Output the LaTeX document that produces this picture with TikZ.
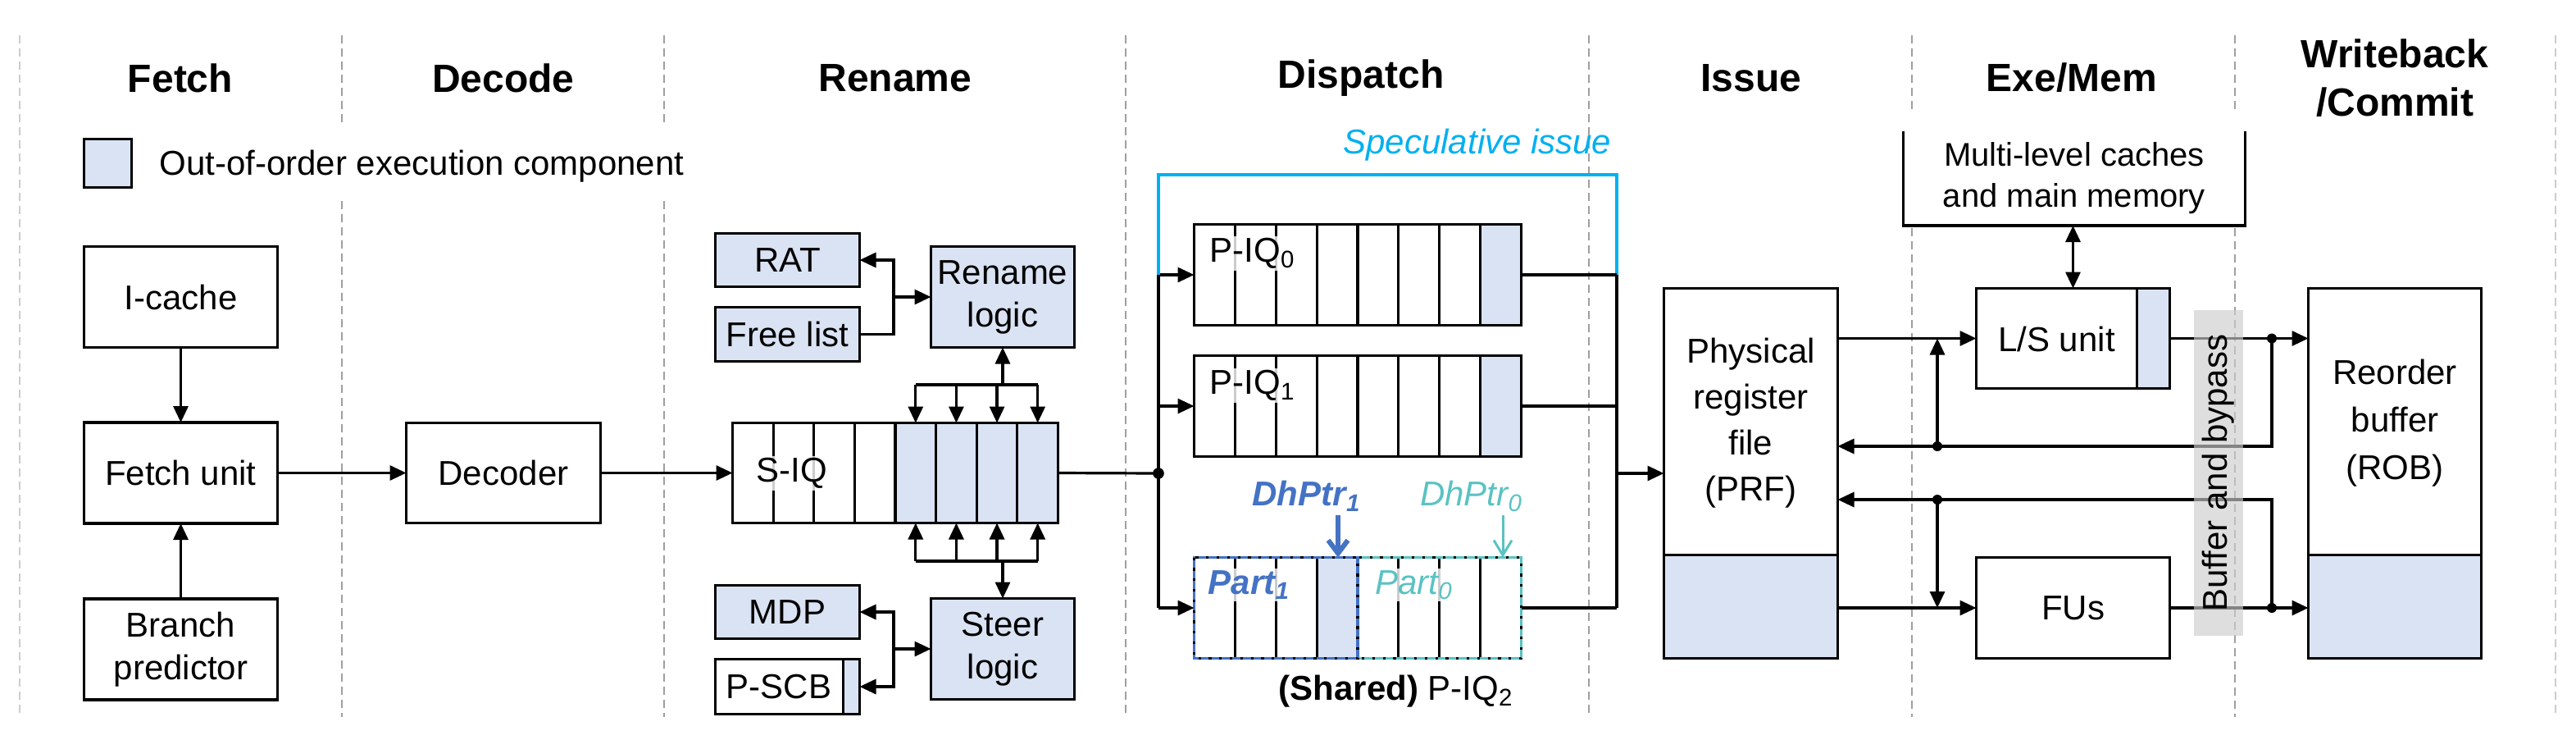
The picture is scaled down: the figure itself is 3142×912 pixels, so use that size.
\documentclass[tikz,border=0pt]{standalone}
\usepackage{fontspec}
\setmainfont{Liberation Sans}
\usetikzlibrary{arrows.meta,calc}
\pgfdeclarelayer{bg}
\pgfsetlayers{bg,main}
\definecolor{oooblue}{HTML}{DAE3F3}
\definecolor{specblue}{HTML}{00B0F0}
\definecolor{partblue}{HTML}{4472C4}
\definecolor{partteal}{HTML}{5BC2C2}
\begin{document}
\fontsize{10.5}{13}\selectfont
\begin{tikzpicture}[x=0.25pt,y=-0.25pt,
  every path/.style={line width=0.8pt},
  ln/.style={line width=0.8pt},
  box/.style={draw,line width=0.8pt,inner sep=0pt,outer sep=0pt,align=center},
  oo/.style={box,fill=oooblue},
  hdr/.style={font=\fontsize{12}{14.75}\selectfont\bfseries,align=center},
  arr/.style={-{Triangle[length=5pt,width=4.5pt]},line width=0.8pt},
  darr/.style={{Triangle[length=5pt,width=4.5pt]}-{Triangle[length=5pt,width=4.5pt]},line width=0.8pt},
  sepline/.style={draw=gray!75,line width=0.5pt,dash pattern=on 2.5pt off 1.5pt},
  seplight/.style={sepline,draw=gray!40},
  jdot/.style={circle,fill=black,inner sep=0pt,minimum size=3.4pt},
  lbl/.style={fill=white,fill opacity=0.8,text opacity=1,inner sep=0.5pt},
  pdash/.style={draw=black,line width=0.9pt,dash pattern=on 0.8pt off 2.4pt}]
\useasboundingbox (0,0) rectangle (3142,912);

% ---------- separators ----------
\draw[seplight] (24,43) -- (24,874);
\draw[seplight] (3117,43) -- (3117,874);
\draw[sepline] (417,43) -- (417,153);
\draw[sepline] (417,245) -- (417,874);
\draw[sepline] (810,43) -- (810,153);
\draw[sepline] (810,245) -- (810,874);
\draw[sepline] (1373,43) -- (1373,874);
\draw[sepline] (1938,43) -- (1938,874);
\draw[sepline] (2332,43) -- (2332,138);
\draw[sepline] (2332,278) -- (2332,874);
\draw[sepline] (2726,43) -- (2726,138);
\draw[sepline] (2726,278) -- (2726,874);

% ---------- headers ----------
\node[hdr] (hfetch) at (220,95) {Fetch};
\node[hdr] (hdec) at (614,95) {Decode};
\node[hdr] (hren) at (1092,95) {Rename};
\node[hdr] (hdis) at (1660,95) {Dispatch};
\node[hdr] (hiss) at (2136,95) {Issue};
\node[hdr] (hexe) at (2527,95) {Exe/Mem};
\node[hdr] (hwb) at (2921,95) {Writeback\\/Commit};

% ---------- legend ----------
\node[oo,minimum width=14.5pt,minimum height=14.75pt] (leg) at (131.5,199) {};
\node[anchor=west,inner sep=0pt] (legt) at (193,203) {Out-of-order execution component};

% ---------- fetch / decode ----------
\node[box,minimum width=59pt,minimum height=30.75pt] (icache) at (220.5,362) {I-cache};
\node[box,minimum width=59pt,minimum height=30.75pt] (fetchu) at (220.5,576.5) {Fetch unit};
\node[box,minimum width=59pt,minimum height=30.75pt] (bp) at (220.5,791.5) {Branch\\predictor};
\node[box,minimum width=59.25pt,minimum height=30.5pt] (decoder) at (614,576.5) {Decoder};

% ---------- rename ----------
\node[box,minimum width=99.25pt,minimum height=30.5pt] (siq) at (1092,576.5) {};
\node[oo,minimum width=44pt,minimum height=16.25pt] (rat) at (960.5,317) {RAT};
\node[oo,minimum width=44pt,minimum height=16.5pt] (freelist) at (960.5,407.5) {Free list};
\node[oo,minimum width=43.75pt,minimum height=30.75pt] (renlog) at (1223,362) {Rename\\logic};
\node[oo,minimum width=44pt,minimum height=16.25pt] (mdp) at (960.5,746) {MDP};
\node[box,minimum width=44pt,minimum height=16.75pt] (pscb) at (960.5,837) {};
\node[oo,minimum width=43.75pt,minimum height=30.75pt] (steer) at (1223,791) {Steer\\logic};

% ---------- dispatch ----------
\node[box,minimum width=99.75pt,minimum height=30.75pt] (piq0) at (1656,335) {};
\node[box,minimum width=99.75pt,minimum height=30.75pt] (piq1) at (1656,495) {};
\node[inner sep=0pt,outer sep=0pt,minimum width=99.75pt,minimum height=30.75pt] (piq2) at (1656,741) {};

% ---------- issue / exe / commit ----------
\node[box,minimum width=53pt,minimum height=112.75pt] (prf) at (2135.5,577) {};
\node[box,minimum width=59pt,minimum height=30.5pt] (lsu) at (2528.5,412.5) {};
\node[box,minimum width=59pt,minimum height=30.75pt] (fus) at (2528.5,741) {FUs};
\node[box,minimum width=52.75pt,minimum height=112.75pt] (rob) at (2921,577) {};
\node[inner sep=0pt,outer sep=0pt,minimum width=104.25pt,minimum height=28.75pt,align=center,
      font=\fontsize{10}{12.5}\selectfont] (caches) at (2530,217.5) {Multi-level caches\\and main memory};
\draw[ln] (caches.north west) -- (caches.south west) -- (caches.south east) -- (caches.north east);

% ---------- background fills ----------
\begin{pgfonlayer}{bg}
  \fill[oooblue] ($(siq.north west)!0.5!(siq.north east)$) rectangle (siq.south east);
  \fill[oooblue] ($(piq0.north west)!0.875!(piq0.north east)$) rectangle (piq0.south east);
  \fill[oooblue] ($(piq1.north west)!0.875!(piq1.north east)$) rectangle (piq1.south east);
  \fill[oooblue] ($(piq2.north west)!0.375!(piq2.north east)$) rectangle ($(piq2.south west)!0.5!(piq2.south east)$);
  \fill[oooblue] ($(pscb.north east)+(-20,0)$) rectangle (pscb.south east);
  \fill[oooblue] ($(lsu.north east)+(-40,0)$) rectangle (lsu.south east);
  \fill[oooblue] (prf.south west) rectangle ($(prf.south east)+(0,-126)$);
  \fill[oooblue] (rob.south west) rectangle ($(rob.south east)+(0,-126)$);
\end{pgfonlayer}

% ---------- cell dividers ----------
\foreach \i in {1,...,7}{
  \draw[ln] ($(siq.north west)!\i/8!(siq.north east)$) -- ($(siq.south west)!\i/8!(siq.south east)$);
  \draw[ln] ($(piq0.north west)!\i/8!(piq0.north east)$) -- ($(piq0.south west)!\i/8!(piq0.south east)$);
  \draw[ln] ($(piq1.north west)!\i/8!(piq1.north east)$) -- ($(piq1.south west)!\i/8!(piq1.south east)$);
}
\foreach \i in {1,2,3,5,6,7}{
  \draw[ln] ($(piq2.north west)!\i/8!(piq2.north east)$) -- ($(piq2.south west)!\i/8!(piq2.south east)$);
}
\draw[ln] ($(pscb.north east)+(-20,0)$) -- ($(pscb.south east)+(-20,0)$);
\draw[ln] ($(lsu.north east)+(-40,0)$) -- ($(lsu.south east)+(-40,0)$);
\draw[ln] ($(prf.south west)+(0,-126)$) -- ($(prf.south east)+(0,-126)$);
\draw[ln] ($(rob.south west)+(0,-126)$) -- ($(rob.south east)+(0,-126)$);

% P-IQ2 partition borders
\coordinate (pmn) at ($(piq2.north west)!0.5!(piq2.north east)$);
\coordinate (pms) at ($(piq2.south west)!0.5!(piq2.south east)$);
\draw[partteal,line width=0.9pt] (pmn) rectangle (piq2.south east);
\draw[pdash] (pmn) rectangle (piq2.south east);
\draw[partblue,line width=0.9pt] (piq2.north west) rectangle (pms);
\draw[pdash] (piq2.north west) rectangle (pms);

% ---------- labels over cells ----------
\node[lbl] (siqt) at (966,577) {S-IQ};
\node (pscbt) at (950,837) {P-SCB};
\node[lbl] (piq0t) at (1528,309) {P-IQ\textsubscript{0}};
\node[lbl] (piq1t) at (1528,470) {P-IQ\textsubscript{1}};
\node[lbl,text=partblue,font=\bfseries\itshape] (p1t) at (1524,713) {Part\textsubscript{1}};
\node[lbl,text=partteal,font=\itshape] (p0t) at (1725,713) {Part\textsubscript{0}};
\node[text=partblue,font=\bfseries\itshape] (dh1) at (1594,605) {DhPtr\textsubscript{1}};
\node[text=partteal,font=\itshape] (dh0) at (1795,605) {DhPtr\textsubscript{0}};
\node (shared) at (1703,843) {\textbf{(Shared)} P-IQ\textsubscript{2}};
\node[text=specblue,font=\itshape] (spec) at (1802,177) {Speculative issue};
\node[align=center,font=\fontsize{10.5}{14}\selectfont] (prft) at (2135.5,516) {Physical\\register\\file\\(PRF)};
\node[align=center,font=\fontsize{10.5}{14.5}\selectfont] (robt) at (2921,516) {Reorder\\buffer\\(ROB)};
\node (lsut) at (2508.5,413) {L/S unit};

% ---------- connectors: fetch / decode ----------
\draw[arr] (icache) -- (fetchu);
\draw[arr] (bp) -- (fetchu);
\draw[arr] (fetchu) -- (decoder);
\draw[arr] (decoder) -- (siq);

% ---------- connectors: rename ----------
\coordinate (rj) at (1090,362);
\draw[arr] (freelist.east) -| (rj) |- (rat.east);
\draw[arr] (rj) -- (rj -| renlog.west);
\coordinate (sj) at (1090,791);
\draw[darr] (mdp.east) -| (sj) |- (pscb.east);
\draw[arr] (sj) -- (sj -| steer.west);

\coordinate (tbar) at (1223,469);
\coordinate (bbar) at (1223,684);
\coordinate (c45) at ($(siq.north west)!4.5/8!(siq.north east)$);
\coordinate (c75) at ($(siq.north west)!7.5/8!(siq.north east)$);
\draw[arr] (tbar) -- (renlog.south);
\draw[ln] (c45 |- tbar) -- (c75 |- tbar);
\draw[arr] (bbar) -- (steer.north);
\draw[ln] (c45 |- bbar) -- (c75 |- bbar);
\foreach \i in {4.5,5.5,6.5,7.5}{
  \coordinate (ct) at ($(siq.north west)!\i/8!(siq.north east)$);
  \coordinate (cb) at ($(siq.south west)!\i/8!(siq.south east)$);
  \draw[arr] (ct |- tbar) -- (ct);
  \draw[arr] (cb |- bbar) -- (cb);
}

% ---------- connectors: dispatch ----------
\coordinate (dj) at (1413,577);
\coordinate (cl) at (1413,213);
\coordinate (cr) at (1972,213);
\coordinate (ij) at (1972,577);
\draw[ln] (siq.east) -- (dj);
\draw[ln] (dj |- piq0.west) -- (dj |- piq2.west);
\draw[arr] (dj |- piq0.west) -- (piq0.west);
\draw[arr] (dj |- piq1.west) -- (piq1.west);
\draw[arr] (dj |- piq2.west) -- (piq2.west);
\draw[ln,specblue] (dj |- piq0.west) -- (cl) -- (cr) -- (ij |- piq0.east);
\draw[ln] (piq0.east) -- (ij |- piq0.east);
\draw[ln] (piq1.east) -- (ij |- piq1.east);
\draw[ln] (piq2.east) -- (ij |- piq2.east);
\draw[ln] (ij |- piq0.east) -- (ij |- piq2.east);
\draw[arr] (ij) -- (ij -| prf.west);
\node[jdot] (djd) at (dj) {};

\coordinate (dh1a) at (1632,628);
\coordinate (dh0a) at (1833,628);
\draw[partblue,line width=1.5pt,-{Straight Barb[length=4pt,width=6pt]}] (dh1a) -- (dh1a |- piq2.north);
\draw[partteal,line width=0.75pt,-{Straight Barb[length=4.5pt,width=5.5pt]}] (dh0a) -- (dh0a |- piq2.north);

% ---------- connectors: issue / exe / commit ----------
\draw[arr] (prf.east |- lsu.west) -- (lsu.west);
\draw[arr] (prf.east |- fus.west) -- (fus.west);
\draw[darr] (lsu.north |- caches.south) -- (lsu.north);
\coordinate (wj1) at (2771,412.5);
\coordinate (wj2) at (2771,741);
\coordinate (b1) at (2771,544);
\coordinate (b2) at (2771,609);
\coordinate (v1) at (2363,544);
\coordinate (v2) at (2363,609);
\draw[ln] (lsu.east) -- (wj1);
\draw[arr] (wj1) -- (wj1 -| rob.west);
\draw[ln] (fus.east) -- (wj2);
\draw[arr] (wj2) -- (wj2 -| rob.west);
\draw[arr] (wj1) -- (b1) -- (b1 -| prf.east);
\draw[arr] (wj2) -- (b2) -- (b2 -| prf.east);
\draw[arr] (v1) -- (v1 |- lsu.west);
\draw[arr] (v2) -- (v2 |- fus.west);
\node[jdot,minimum size=3pt] (wj1d) at (wj1) {};
\node[jdot,minimum size=3pt] (wj2d) at (wj2) {};
\node[jdot,minimum size=3pt] (v1d) at (v1) {};
\node[jdot,minimum size=3pt] (v2d) at (v2) {};

% ---------- buffer and bypass bar ----------
\node[fill=black!20,fill opacity=0.65,text opacity=1,rotate=90,inner sep=0pt,
      minimum width=99.25pt,minimum height=15pt] (bypass) at (2706,576.5) {Buffer and bypass};
\end{tikzpicture}
\end{document}
